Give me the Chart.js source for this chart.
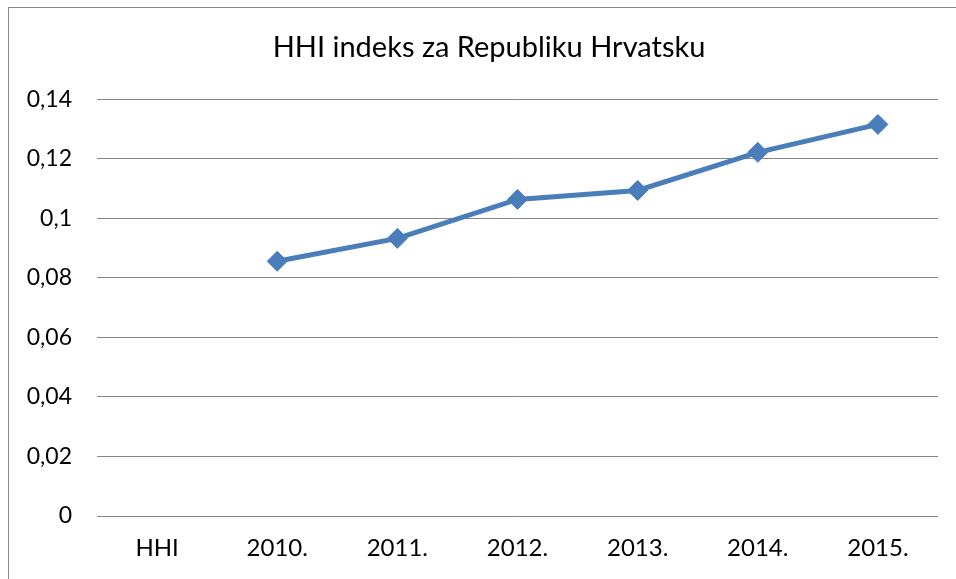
<!DOCTYPE html>
<html>
<head>
<meta charset="utf-8">
<script src="https://cdn.jsdelivr.net/npm/chart.js@4"></script>
<style>
    html, body { margin: 0; padding: 0; background: #fff; overflow: hidden; }
    #wrap { position: relative; width: 956px; height: 579px; overflow: hidden; }
    #frame { position: absolute; left: 8px; top: 7px; width: 960px; height: 600px;
             border-left: 1px solid #8a8a8a; border-top: 1px solid #8a8a8a; }
    canvas { position: absolute; left: 0; top: 0; }
</style>
</head>
<body>
<div id="wrap">
    <div id="frame"></div>
    <canvas id="hhiChart" width="978" height="579"></canvas>
</div>
<script>
// chart data
const categories = ['HHI', '2010.', '2011.', '2012.', '2013.', '2014.', '2015.'];
const hhiValues = [null, 0.0856, 0.0933, 0.1064, 0.1094, 0.1222, 0.1316];
const yTickValues = [0, 0.02, 0.04, 0.06, 0.08, 0.1, 0.12, 0.14];
const yTickLabels = ['0', '0,02', '0,04', '0,06', '0,08', '0,1', '0,12', '0,14'];

const fontFamily = 'Lato, Carlito, Calibri, "Open Sans", sans-serif';

new Chart(document.getElementById('hhiChart'), {
    type: 'line',
    data: {
        labels: categories,
        datasets: [{
            label: 'HHI',
            data: hhiValues,
            borderColor: '#4a7ebb',
            backgroundColor: '#4a7ebb',
            borderWidth: 5,
            pointStyle: 'rectRot',
            pointRadius: 10,
            pointBorderWidth: 1,
            pointBorderColor: '#4a7ebb',
            pointBackgroundColor: '#4a7ebb',
            tension: 0
        }]
    },
    options: {
        responsive: false,
        animation: false,
        layout: { padding: 0 },
        plugins: {
            legend: { display: false },
            tooltip: { enabled: false },
            title: {
                display: true,
                text: 'HHI indeks za Republiku Hrvatsku',
                color: '#000',
                font: { family: fontFamily, size: 29, weight: 'normal', lineHeight: 1.2 },
                padding: { top: 30, bottom: 34.6 }
            }
        },
        scales: {
            x: {
                offset: true,
                grid: { display: false, drawTicks: false },
                border: { display: false },
                ticks: {
                    color: '#000',
                    padding: 18,
                    maxRotation: 0,
                    font: { family: fontFamily, size: 24 }
                },
                afterFit: (scale) => { scale.height = 63; }
            },
            y: {
                min: 0,
                max: 0.14,
                grid: { color: '#868686', lineWidth: 1, drawTicks: false },
                border: { display: false },
                afterBuildTicks: (scale) => {
                    scale.ticks = yTickValues.map(v => ({ value: v }));
                },
                ticks: {
                    color: '#000',
                    padding: 25,
                    font: { family: fontFamily, size: 23 },
                    callback: (value, index) => yTickLabels[index]
                },
                afterFit: (scale) => { scale.width = 97; }
            },
            // empty spacer on the right so the title centres like the original
            spacer: {
                type: 'linear',
                position: 'right',
                grid: { display: false, drawTicks: false },
                border: { display: false },
                ticks: { display: false },
                afterFit: (scale) => { scale.width = 40; }
            }
        }
    }
});
</script>
</body>
</html>
